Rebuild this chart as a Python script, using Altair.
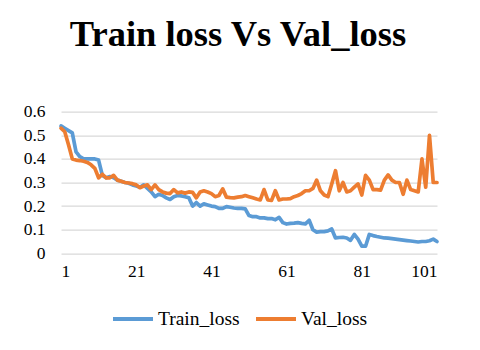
import altair as alt
import pandas as pd

epochs = list(range(1, 102))

train_loss = [
    0.54, 0.53, 0.52, 0.51, 0.43, 0.41, 0.40, 0.40, 0.40, 0.40,
    0.395, 0.33, 0.32, 0.325, 0.32, 0.31, 0.305, 0.30, 0.297, 0.29,
    0.285, 0.28, 0.29, 0.275, 0.26, 0.24, 0.25, 0.245, 0.235, 0.228,
    0.24, 0.245, 0.243, 0.24, 0.235, 0.20, 0.215, 0.20, 0.21, 0.205,
    0.20, 0.198, 0.19, 0.19, 0.198, 0.195, 0.192, 0.19, 0.19, 0.188,
    0.16, 0.155, 0.155, 0.15, 0.15, 0.147, 0.147, 0.142, 0.152, 0.13,
    0.124, 0.127, 0.128, 0.13, 0.127, 0.125, 0.14, 0.10, 0.09, 0.092,
    0.092, 0.095, 0.103, 0.065, 0.067, 0.068, 0.065, 0.055, 0.08, 0.06,
    0.03, 0.03, 0.08, 0.075, 0.071, 0.068, 0.065, 0.064, 0.062, 0.06,
    0.058, 0.056, 0.054, 0.052, 0.05, 0.048, 0.05, 0.05, 0.053, 0.06,
    0.05,
]

val_loss = [
    0.53, 0.515, 0.46, 0.40, 0.395, 0.393, 0.39, 0.385, 0.375, 0.36,
    0.32, 0.335, 0.32, 0.32, 0.33, 0.31, 0.305, 0.30, 0.298, 0.295,
    0.29, 0.278, 0.285, 0.29, 0.27, 0.29, 0.27, 0.26, 0.255, 0.253,
    0.27, 0.256, 0.26, 0.255, 0.26, 0.258, 0.235, 0.26, 0.265, 0.26,
    0.253, 0.24, 0.245, 0.273, 0.238, 0.236, 0.235, 0.238, 0.24, 0.245,
    0.24, 0.235, 0.23, 0.226, 0.27, 0.226, 0.224, 0.265, 0.226, 0.23,
    0.23, 0.232, 0.24, 0.245, 0.253, 0.265, 0.265, 0.275, 0.31, 0.265,
    0.247, 0.24, 0.294, 0.35, 0.265, 0.30, 0.26, 0.265, 0.28, 0.294,
    0.247, 0.33, 0.31, 0.27, 0.27, 0.268, 0.31, 0.332, 0.31, 0.30,
    0.30, 0.25, 0.31, 0.27, 0.265, 0.26, 0.40, 0.28, 0.50, 0.30,
    0.30,
]

series_names = ["Train_loss", "Val_loss"]
series_colors = ["#5B9BD5", "#ED7D31"]
x_ticks = [1, 21, 41, 61, 81, 101]
y_ticks = [0, 0.1, 0.2, 0.3, 0.4, 0.5, 0.6]

df = pd.concat([
    pd.DataFrame({"epoch": epochs, "loss": train_loss, "series": series_names[0]}),
    pd.DataFrame({"epoch": epochs, "loss": val_loss, "series": series_names[1]}),
])

FONT = "Liberation Serif"

chart = alt.Chart(df).mark_line(strokeWidth=3.7, strokeJoin="round", strokeCap="round").encode(
    x=alt.X("epoch:Q",
            scale=alt.Scale(domain=[1, 101], nice=False, zero=False),
            axis=alt.Axis(values=x_ticks, title=None, grid=False, ticks=False,
                          domain=False, labelFont=FONT, labelFontSize=17.5,
                          labelColor="#000000", labelPadding=9)),
    y=alt.Y("loss:Q",
            scale=alt.Scale(domain=[0, 0.6], nice=False),
            axis=alt.Axis(values=y_ticks, title=None, ticks=False, domain=False,
                          gridColor="#D9D9D9", gridWidth=1.2,
                          labelExpr="datum.value == 0 ? '0' : format(datum.value, '.1f')",
                          labelFont=FONT, labelFontSize=17.5, labelColor="#000000",
                          labelPadding=16)),
    color=alt.Color("series:N",
                    scale=alt.Scale(domain=series_names, range=series_colors),
                    legend=alt.Legend(title=None, orient="none", direction="horizontal",
                                      legendX=50, legendY=185,
                                      symbolType="stroke", symbolSize=1600,
                                      symbolStrokeWidth=4, labelFont=FONT,
                                      labelFontSize=19.5, labelColor="#000000",
                                      labelOffset=3, columnPadding=8)),
    order="epoch:Q",
).properties(
    width=376,
    height=141.6,
    autosize=alt.AutoSizeParams(type="none"),
    padding={"left": 53, "top": 103.7, "right": 35, "bottom": 88.7},
    title=alt.TitleParams("Train loss Vs Val_loss", font=FONT, fontSize=36.5,
                          fontWeight="bold", color="#000000", anchor="middle",
                          dx=-11, offset=20, baseline="alphabetic"),
).configure_view(stroke=None)

chart.save("out.html", embed_options={"renderer": "svg", "actions": False})
